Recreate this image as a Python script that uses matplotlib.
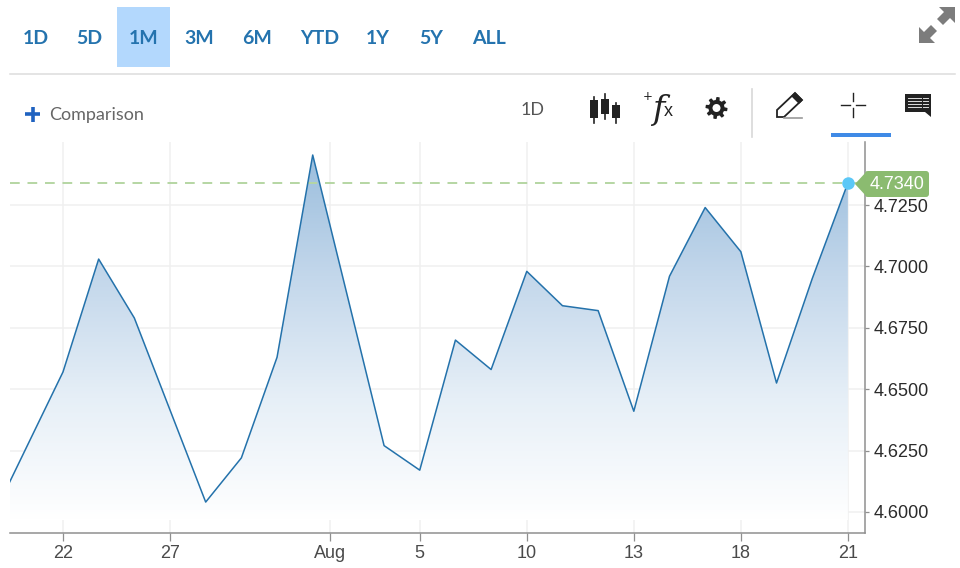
import numpy as np
import matplotlib
matplotlib.use("Agg")
import matplotlib.pyplot as plt
from matplotlib.patches import Rectangle, Polygon, Circle, FancyBboxPatch
from matplotlib.colors import LinearSegmentedColormap

# ---- data ----
session_index = [-2, -1, 0, 1, 2, 3, 4, 5, 6, 7, 8, 9, 10, 11, 12, 13, 14, 15, 16, 17, 18, 19, 20, 21, 22]
rate = [4.597, 4.627, 4.657, 4.703, 4.679, 4.6415, 4.604, 4.622, 4.663, 4.7454, 4.6863, 4.627, 4.617,
        4.670, 4.658, 4.698, 4.684, 4.682, 4.641, 4.696, 4.724, 4.706, 4.6525, 4.695, 4.734]
x_tick_pos = [0, 3, 7.48, 10, 13, 16, 19, 22]
x_tick_labels = ["22", "27", "Aug", "5", "10", "13", "18", "21"]
y_ticks = [4.60, 4.625, 4.65, 4.675, 4.70, 4.725]
last_price = 4.7340
ranges = ["1D", "5D", "1M", "3M", "6M", "YTD", "1Y", "5Y", "ALL"]
range_x = [36, 89, 144, 199, 257, 320, 378, 431, 489]

W, H = 960, 568
fig = plt.figure(figsize=(W/100, H/100), dpi=100, facecolor="white")

# ---- main chart ----
L, R, T, B = 10, 865, 142, 533
ax = fig.add_axes([L/W, 1-B/H, (R-L)/W, (B-T)/H])
ax.set_xlim(-1.485, 22.48)
ax.set_ylim(4.5914, 4.7507)
ax.set_facecolor("white")
for s in ("top", "left"):
    ax.spines[s].set_visible(False)
for s in ("right", "bottom"):
    ax.spines[s].set_color("#8f8f8f")
    ax.spines[s].set_linewidth(1.1)
ax.yaxis.tick_right()
ax.set_xticks(x_tick_pos)
ax.set_xticklabels(x_tick_labels)
ax.set_yticks(y_ticks)
ax.set_yticklabels([f"{v:.4f}" for v in y_ticks])
ax.tick_params(axis="x", length=6, width=0.9, color="#8f8f8f", labelsize=13, labelcolor="#4a4a4a", pad=3)
ax.tick_params(axis="y", length=3, width=0.9, color="#8f8f8f", labelsize=13, labelcolor="#2b2b2b", pad=3)
for lab in ax.get_xticklabels() + ax.get_yticklabels():
    lab.set_fontfamily("Liberation Sans")
ax.grid(True, color="#f0f0f0", linewidth=1.1)
ax.set_axisbelow(True)

cmap = LinearSegmentedColormap.from_list("fade", ["#ffffff", "#e6eff7", "#c3d7eb", "#9bbedd"])
grad = np.linspace(0, 1, 256).reshape(-1, 1)
top = max(rate)
im = ax.imshow(grad, origin="lower", aspect="auto", cmap=cmap, alpha=1,
               extent=[session_index[0], session_index[-1], 4.5965, top], zorder=2)
clip = Polygon(list(zip(session_index, rate)) + [(22, 4.5914), (-2, 4.5914)],
               closed=True, transform=ax.transData, fc="none", ec="none")
ax.add_patch(clip)
im.set_clip_path(clip)
ax.plot(session_index, rate, color="#2472ab", linewidth=1.1, zorder=4)
ax.axhline(last_price, color="#b5d6a3", linestyle=(0, (5, 4)), linewidth=1.4, zorder=3)
ax.plot([22], [last_price], "o", color="#5cc8f7", markersize=9, markeredgecolor="none", zorder=6, clip_on=False)

# ---- page chrome (pixel coordinates) ----
ui = fig.add_axes([0, 0, 1, 1], facecolor="none")
ui.set_xlim(0, W); ui.set_ylim(H, 0); ui.axis("off")
BLUE = "#2473ae"
DARK = "#222222"

ui.add_patch(Rectangle((117, 7), 53, 60, fc="#b3d8fd", ec="none"))
for lab, x in zip(ranges, range_x):
    ui.text(x, 38, lab, ha="center", va="center", fontsize=14, color=BLUE,
            family="Lato", weight="bold")
ui.plot([10, 955], [73.5, 73.5], color="#dddddd", lw=1.1)

# comparison
ui.plot([25, 40], [114, 114], color="#1f62c0", lw=2.6, solid_capstyle="butt")
ui.plot([32.5, 32.5], [106.5, 121.5], color="#1f62c0", lw=2.6, solid_capstyle="butt")
ui.text(49, 115, "Comparison", ha="left", va="center", fontsize=13, color="#666666", family="Lato")

# interval
ui.text(533, 110, "1D", ha="center", va="center", fontsize=13, color="#555555", family="Lato")

# candles
for cx, yt, yb, bt, bb in [(594, 99, 123, 100, 118), (604.5, 94, 119, 99, 114), (615.5, 103, 123, 105, 118)]:
    ui.plot([cx, cx], [yt - 2 if cx < 600 else yt, yb], color=DARK, lw=1.2)
    ui.add_patch(Rectangle((cx-4, bt), 8, bb-bt, fc=DARK, ec="none"))

# fx
ui.text(648, 97, "+", ha="center", va="center", fontsize=8.5, color=DARK, family="DejaVu Sans")
ui.text(658, 110, "f", ha="center", va="center", fontsize=24, color=DARK, family="DejaVu Serif", style="italic")
ui.text(668, 111, "x", ha="center", va="center", fontsize=13, color=DARK, family="Liberation Sans")

# gear
ang = np.linspace(0, 2*np.pi, 65)[:-1]
rad = 9.5 + 1.5*np.sign(np.sin(8*ang + 0.4))
ui.add_patch(Polygon(np.c_[716.5 + rad*np.cos(ang), 108 + rad*np.sin(ang)], fc=DARK, ec="none"))
ui.add_patch(Circle((716.5, 108), 4, fc="white", ec="none"))

ui.plot([752, 752], [89, 137], color="#d8d8d8", lw=1.2)

# pencil
ui.add_patch(Polygon([(777, 117), (777, 110), (795, 93), (802, 100), (784, 117)], fc="white", ec=DARK, lw=1.3))
ui.add_patch(Polygon([(792, 96), (795, 93), (802, 100), (799, 103)], fc=DARK, ec=DARK, lw=1))
ui.plot([784, 802], [117.5, 117.5], color="#999999", lw=1.2)

# crosshair
ui.plot([841, 850], [104.5, 104.5], color=DARK, lw=1.0)
ui.plot([856, 865], [104.5, 104.5], color=DARK, lw=1.0)
ui.plot([853, 853], [93, 101], color=DARK, lw=1.0)
ui.plot([853, 853], [108, 117], color=DARK, lw=1.0)
ui.add_patch(Rectangle((831, 133), 60, 4, fc="#3f8ae6", ec="none"))

# comment
ui.add_patch(Polygon([(905, 94), (931, 94), (931, 117), (925, 112), (905, 112)], fc=DARK, ec="none"))
for yy in (98, 101, 104, 107):
    ui.plot([908, 921], [yy, yy], color="#dddddd", lw=0.7)
    ui.plot([923, 928], [yy, yy], color="#dddddd", lw=0.7)

# expand arrows
G = "#7c7c7c"
ui.add_patch(Polygon([(919, 43), (919, 27), (924, 32), (931, 25), (937, 31), (930, 38), (935, 43)], fc=G, ec="none"))
ui.add_patch(Polygon([(955, 7), (955, 23), (950, 18), (943, 25), (937, 19), (944, 12), (939, 7)], fc=G, ec="none"))

# last price flag
GREEN = "#8bbb70"
ui.add_patch(FancyBboxPatch((865, 171), 64, 26, boxstyle="round,pad=0,rounding_size=3", fc=GREEN, ec="none"))
ui.add_patch(Polygon([(855, 184), (867, 171), (867, 197)], fc=GREEN, ec="none"))
ui.text(897, 184.5, f"{last_price:.4f}", ha="center", va="center", fontsize=13, color="white", family="Liberation Sans")

fig.savefig("out.png", dpi=100)
